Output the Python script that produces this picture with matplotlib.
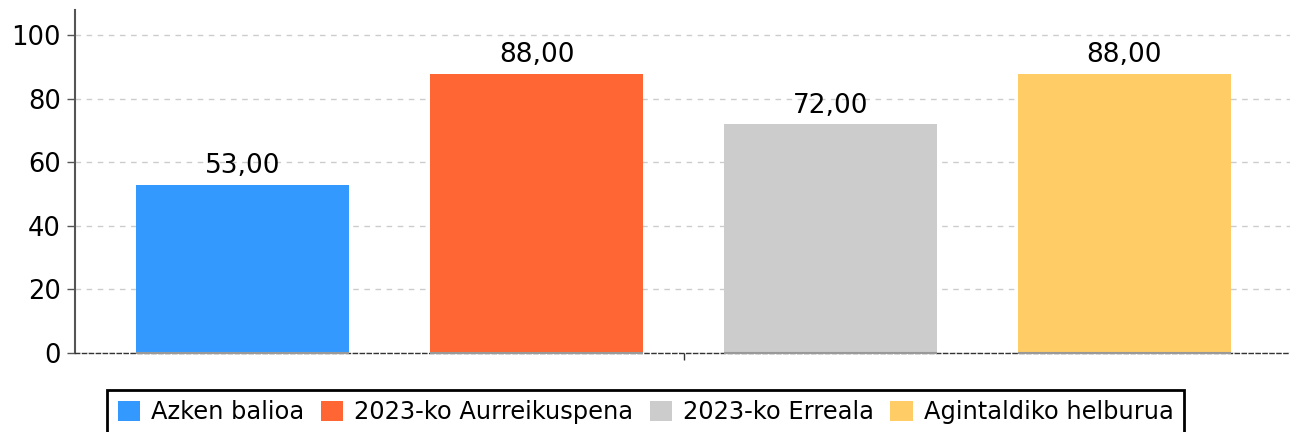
import matplotlib
matplotlib.use("Agg")
import matplotlib.pyplot as plt

labels = ["Azken balioa", "2023-ko Aurreikuspena", "2023-ko Erreala", "Agintaldiko helburua"]
values = [53.00, 88.00, 72.00, 88.00]
colors = ["#3399FF", "#FF6633", "#CCCCCC", "#FFCC66"]
yticks = [0, 20, 40, 60, 80, 100]

plt.rcParams['font.family'] = ['DejaVu Sans']
fig = plt.figure(figsize=(12.95, 4.32), dpi=100)
ax = fig.add_axes([75/1295, 1-353/432, (1290-75)/1295, (353-10)/432])

x = list(range(len(values)))
bars = ax.bar(x, values, width=0.725, color=colors, label=labels, zorder=3)
for b, v in zip(bars, values):
    ax.text(b.get_x() + b.get_width()/2, v + 1.7, f"{v:.2f}".replace('.', ','),
            ha='center', va='bottom', fontsize=19, zorder=4)
    ax.plot([b.get_x(), b.get_x() + b.get_width()], [0, 0], color='#999999', lw=1.5,
            zorder=5, solid_capstyle='butt', clip_on=False)

ax.set_xlim(-0.57, 3.563)
ax.set_ylim(0, 108)
ax.set_yticks(yticks)
ax.set_yticklabels([str(t) for t in yticks], fontsize=18.5)
ax.set_xticks([1.5])
ax.set_xticklabels([""])
ax.tick_params(axis='y', length=6, width=1, color='#555555', pad=4)
ax.tick_params(axis='x', length=5, width=1, color='#333333')
ax.yaxis.grid(True, linestyle=(0, (4, 4)), color='#cccccc', lw=1, zorder=0)
ax.set_axisbelow(True)
for s in ['top', 'right']:
    ax.spines[s].set_visible(False)
ax.spines['left'].set_color('#555555')
ax.spines['left'].set_linewidth(1.5)
ax.spines['bottom'].set_color('#333333')
ax.spines['bottom'].set_linestyle((0, (3, 2)))
ax.spines['bottom'].set_linewidth(1)

leg = fig.legend(handles=bars, labels=labels, loc='upper center',
                 bbox_to_anchor=(0.4985, 1-390/432), ncol=4, fontsize=17.4,
                 frameon=True, fancybox=False, edgecolor='black', framealpha=1,
                 handlelength=0.92, handleheight=0.92, handletextpad=0.46,
                 columnspacing=0.68, borderpad=0.42, borderaxespad=0)
leg.get_frame().set_linewidth(2)

fig.savefig("out.png", dpi=100)
